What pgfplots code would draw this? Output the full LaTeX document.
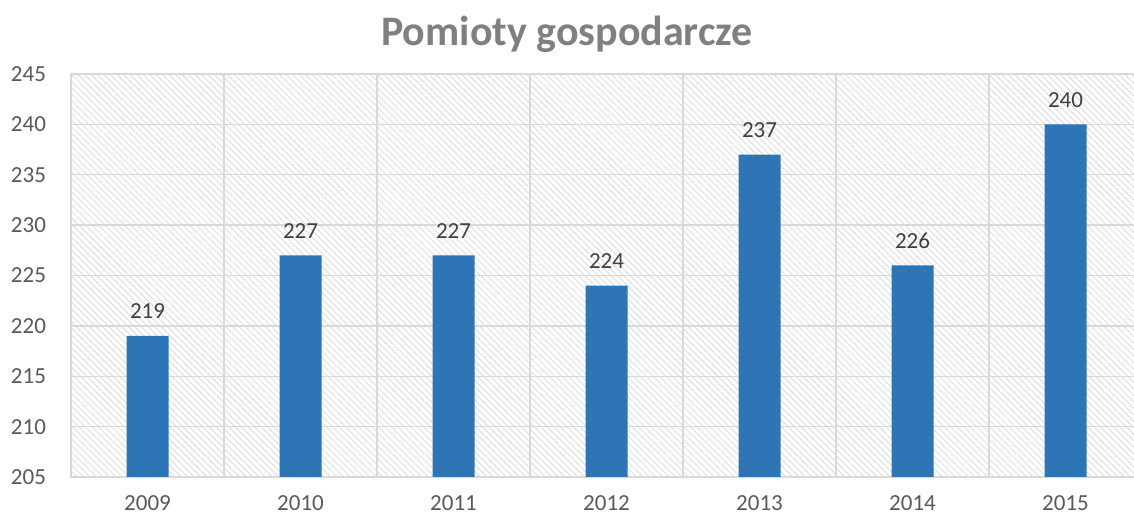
\documentclass[border=0pt]{standalone}
\usepackage{pgfplots}
\pgfplotsset{compat=1.18}
\usepackage{fontspec}
\setmainfont{Carlito}
\usetikzlibrary{patterns.meta}
\definecolor{barblue}{HTML}{2E75B6}
\definecolor{gridgray}{HTML}{D9D9D9}
\definecolor{ticktext}{HTML}{595959}
\definecolor{labeltext}{HTML}{404040}
\definecolor{titlegray}{HTML}{808080}
\begin{document}
\begin{tikzpicture}
\useasboundingbox (-35.5pt,-20pt) rectangle (531.5pt,238.5pt);
\begin{axis}[
  at={(0,0)}, anchor=south west,
  scale only axis, width=535.5pt, height=201.5pt,
  xmin=-0.5, xmax=6.5, ymin=205, ymax=245,
  enlargelimits=false,
  ytick={205,210,...,245},
  xtick={0,1,2,3,4,5,6},
  xticklabels={2009,2010,2011,2012,2013,2014,2015},
  minor xtick={0.5,1.5,2.5,3.5,4.5,5.5},
  xminorgrids, ymajorgrids,
  major grid style={draw=gridgray, line width=0.7pt},
  minor grid style={draw=gridgray, line width=0.7pt},
  axis line style={draw=gridgray, line width=0.7pt},
  tick style={draw=none},
  major tick length=0pt, minor tick length=0pt,
  /pgf/number format/assume math mode=true,
  tick label style={font=\fontsize{11.5}{13}\selectfont, text=ticktext},
  yticklabel style={xshift=-9pt},
  xticklabel style={yshift=-6pt},
  axis background/.style={pattern={Lines[angle=-45,distance=2.3pt,line width=0.4pt]}, pattern color=gray!28},
  ybar, bar width=21pt,
  nodes near coords,
  nodes near coords style={font=\fontsize{11.5}{13}\selectfont, text=labeltext, anchor=south, yshift=5pt},
]
\addplot[fill=barblue, draw=none] coordinates {(0,219) (1,227) (2,227) (3,224) (4,237) (5,226) (6,240)};
\end{axis}
\node[anchor=base, font=\bfseries\fontsize{21}{25}\selectfont, text=titlegray] at (248pt,215.5pt) {Pomioty gospodarcze};
\end{tikzpicture}
\end{document}
